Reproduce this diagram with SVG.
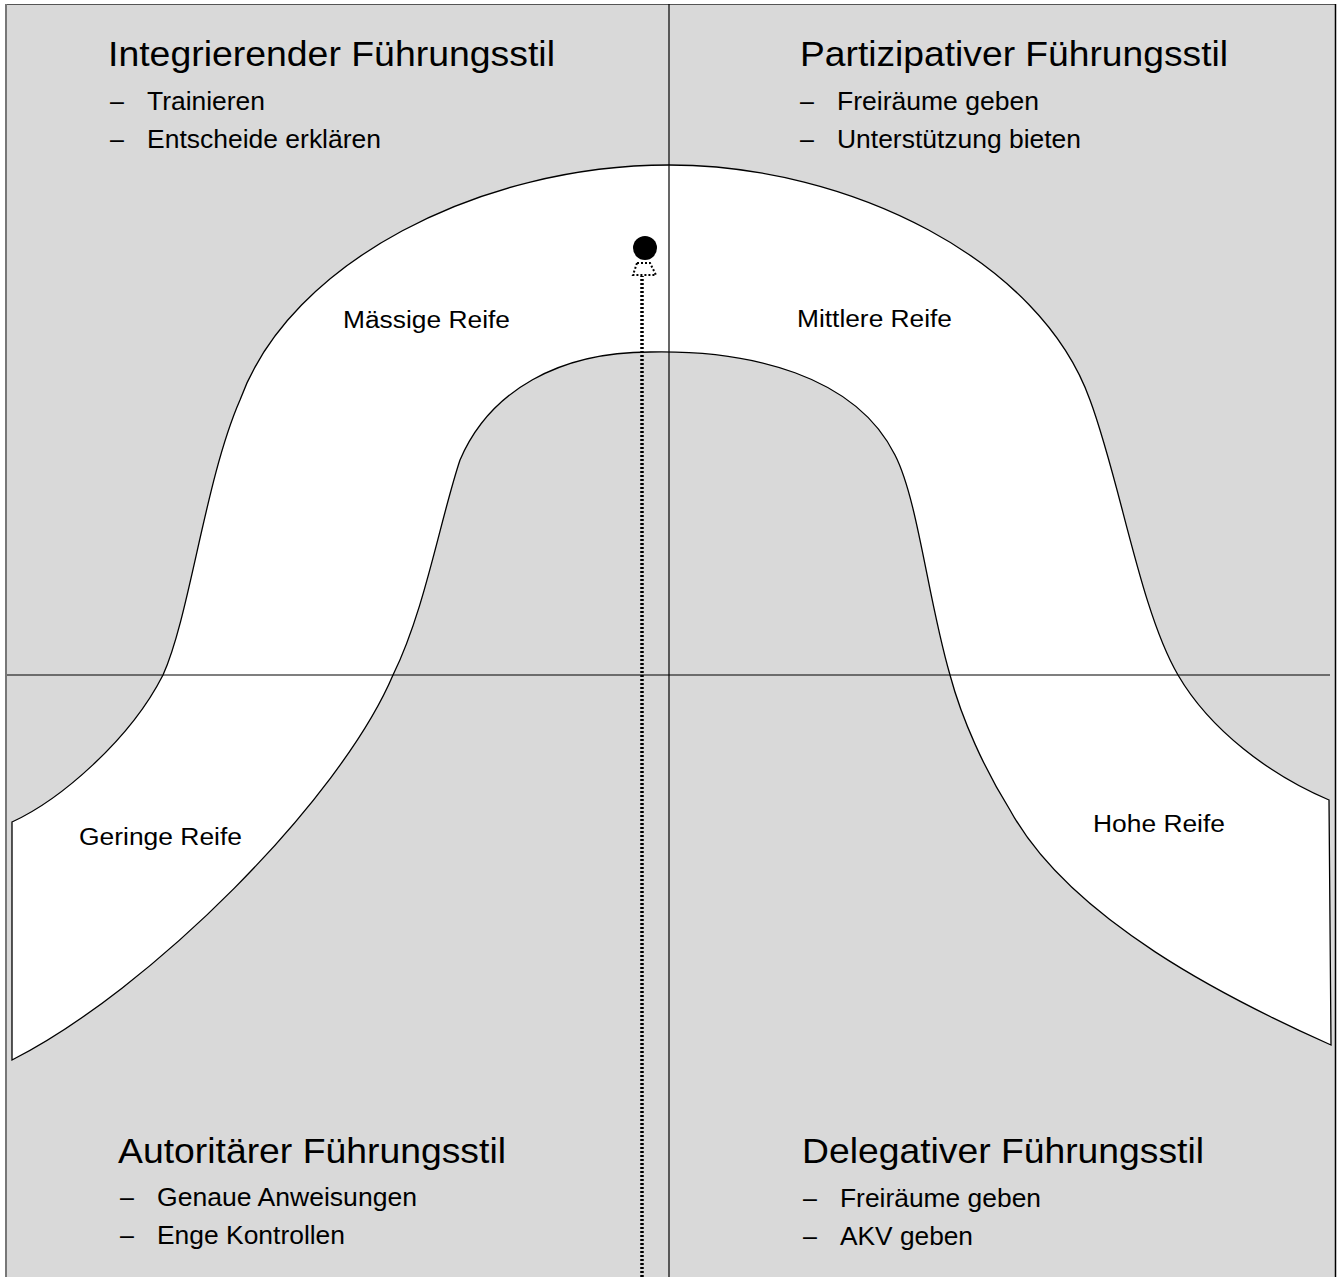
<svg xmlns="http://www.w3.org/2000/svg" width="1341" height="1277" viewBox="0 0 1341 1277">
  <style>
    .title { font-family: "Liberation Sans", Arial, sans-serif; font-size: 35px; fill: #000; }
    .item { font-family: "Liberation Sans", Arial, sans-serif; font-size: 25px; fill: #000; }
    .label { font-family: "Liberation Sans", Arial, sans-serif; font-size: 23px; fill: #000; }
    .axis { stroke: #000; stroke-width: 1.2; fill: none; }
    .dotted { stroke: #000; stroke-width: 3.5; stroke-dasharray: 2 2; fill: none; }
  </style>

  <!-- canvas -->
  <rect x="0" y="0" width="1341" height="1277" fill="#ffffff"/>
  <rect x="5" y="4" width="1331" height="1280" fill="#d9d9d9"/>
  <line x1="5" y1="4.5" x2="1336" y2="4.5" stroke="#555" stroke-width="1.2"/>
  <line x1="6" y1="4" x2="6" y2="1277" stroke="#777" stroke-width="2"/>
  <line x1="1335.5" y1="4" x2="1335.5" y2="1277" stroke="#000" stroke-width="1.5"/>

  <!-- maturity band -->
  <g id="band">
    <path d="M12,822 C60,800 130,740 163,675 C190,615 205,480 240,400 C290,262 480,165 669,165 C850,165 1040,260 1090,400 C1120,480 1140,610 1178,675 C1210,730 1270,775 1329,800 L1331,1045 C1230,1000 1070,920 1010,810 C985,770 962,720 950,675 C928,600 918,500 895,455 C855,375 750,350 650,352 C560,352 490,390 460,460 C440,520 425,610 393,675 C340,800 150,990 12,1060 Z" fill="#ffffff" stroke="#000" stroke-width="1.3"/>
  </g>

  <!-- quadrant axes -->
  <g id="axes">
    <line class="axis" x1="669" y1="4" x2="669" y2="1277"/>
    <line class="axis" x1="7" y1="675" x2="1330" y2="675"/>
  </g>

  <!-- connectors -->
  <g id="connectors">
    <line class="dotted" x1="642" y1="1277" x2="642" y2="276"/>
    <path d="M637,263 L650,263 L656,275 L633,275 Z" fill="#ffffff" stroke="#000" stroke-width="2" stroke-dasharray="2 2"/>
  </g>

  <g id="marker-dot">
    <circle cx="645" cy="248" r="12" fill="#000"/>
  </g>

  <!-- quadrant: integrating style -->
  <g id="integrierend">
    <text class="title" x="108" y="66" textLength="447" lengthAdjust="spacingAndGlyphs">Integrierender Führungsstil</text>
    <text class="item" x="110" y="110">–</text>
    <text class="item" x="147" y="110" textLength="118" lengthAdjust="spacingAndGlyphs">Trainieren</text>
    <text class="item" x="110" y="148">–</text>
    <text class="item" x="147" y="148" textLength="234" lengthAdjust="spacingAndGlyphs">Entscheide erklären</text>
  </g>

  <!-- quadrant: participative style -->
  <g id="partizipativ">
    <text class="title" x="800" y="66" textLength="428" lengthAdjust="spacingAndGlyphs">Partizipativer Führungsstil</text>
    <text class="item" x="800" y="110">–</text>
    <text class="item" x="837" y="110" textLength="202" lengthAdjust="spacingAndGlyphs">Freiräume geben</text>
    <text class="item" x="800" y="148">–</text>
    <text class="item" x="837" y="148" textLength="244" lengthAdjust="spacingAndGlyphs">Unterstützung bieten</text>
  </g>

  <!-- quadrant: authoritarian style -->
  <g id="autoritaer">
    <text class="title" x="118" y="1163" textLength="388" lengthAdjust="spacingAndGlyphs">Autoritärer Führungsstil</text>
    <text class="item" x="120" y="1206">–</text>
    <text class="item" x="157" y="1206" textLength="260" lengthAdjust="spacingAndGlyphs">Genaue Anweisungen</text>
    <text class="item" x="120" y="1244">–</text>
    <text class="item" x="157" y="1244" textLength="188" lengthAdjust="spacingAndGlyphs">Enge Kontrollen</text>
  </g>

  <!-- quadrant: delegating style -->
  <g id="delegativ">
    <text class="title" x="802" y="1163" textLength="402" lengthAdjust="spacingAndGlyphs">Delegativer Führungsstil</text>
    <text class="item" x="803" y="1207">–</text>
    <text class="item" x="840" y="1207" textLength="201" lengthAdjust="spacingAndGlyphs">Freiräume geben</text>
    <text class="item" x="803" y="1245">–</text>
    <text class="item" x="840" y="1245" textLength="133" lengthAdjust="spacingAndGlyphs">AKV geben</text>
  </g>

  <!-- maturity labels -->
  <g id="reife-gering"><text class="label" x="79" y="845" textLength="163" lengthAdjust="spacingAndGlyphs">Geringe Reife</text></g>
  <g id="reife-maessig"><text class="label" x="343" y="328" textLength="167" lengthAdjust="spacingAndGlyphs">Mässige Reife</text></g>
  <g id="reife-mittel"><text class="label" x="797" y="327" textLength="155" lengthAdjust="spacingAndGlyphs">Mittlere Reife</text></g>
  <g id="reife-hoch"><text class="label" x="1093" y="832" textLength="132" lengthAdjust="spacingAndGlyphs">Hohe Reife</text></g>
</svg>
